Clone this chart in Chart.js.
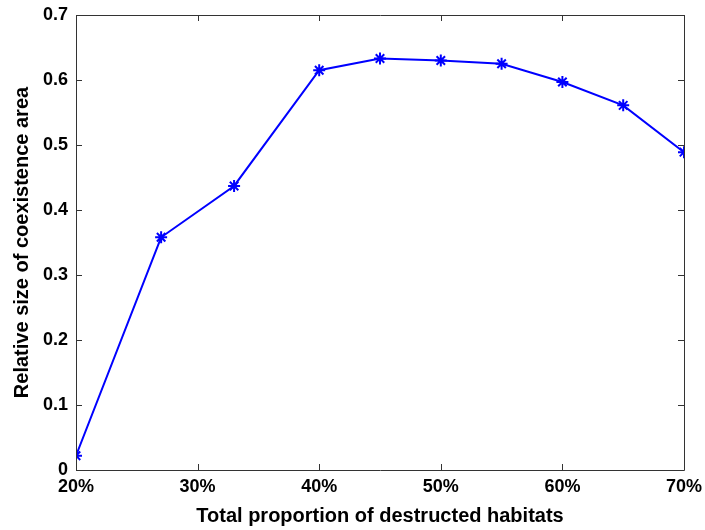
<!DOCTYPE html>
<html>
<head>
<meta charset="utf-8">
<script src="https://cdn.jsdelivr.net/npm/chart.js@4/dist/chart.umd.min.js"></script>
<style>
  body { margin: 0; background: #fff; }
  #wrap { width: 705px; height: 530px; }
</style>
</head>
<body>
<div id="wrap"><canvas id="chart" width="705" height="530"></canvas></div>
<script>
// data
const proportions = [20, 27, 33, 40, 45, 50, 55, 60, 65, 70];
const coexistence = [0.022, 0.358, 0.437, 0.615, 0.633, 0.630, 0.625, 0.597, 0.561, 0.489];
const xTicks = [20, 30, 40, 50, 60, 70];
const yTicks = [0, 0.1, 0.2, 0.3, 0.4, 0.5, 0.6, 0.7];
const yTickLabels = ['0', '0.1', '0.2', '0.3', '0.4', '0.5', '0.6', '0.7'];

const fontFamily = '"Liberation Sans Narrow", "Liberation Sans", Arial, sans-serif';

// matlab style box with inward ticks
const boxPlugin = {
    id: 'box',
    afterDraw(chart) {
        const ctx = chart.ctx;
        const a = chart.chartArea;
        const xs = chart.scales.x;
        const ys = chart.scales.y;
        const len = 6;
        ctx.save();
        ctx.strokeStyle = '#333';
        ctx.lineWidth = 1;
        ctx.beginPath();
        ctx.rect(Math.round(a.left) + 0.5, Math.round(a.top) + 0.5,
            Math.round(a.right - a.left), Math.round(a.bottom - a.top));
        xTicks.forEach(v => {
            const px = Math.round(xs.getPixelForValue(v)) + 0.5;
            ctx.moveTo(px, a.bottom); ctx.lineTo(px, a.bottom - len);
            ctx.moveTo(px, a.top); ctx.lineTo(px, a.top + len);
        });
        yTicks.forEach(v => {
            const py = Math.round(ys.getPixelForValue(v)) + 0.5;
            ctx.moveTo(a.left, py); ctx.lineTo(a.left + len, py);
            ctx.moveTo(a.right, py); ctx.lineTo(a.right - len, py);
        });
        ctx.stroke();
        ctx.restore();
    }
};

new Chart(document.getElementById('chart'), {
    type: 'line',
    data: {
        datasets: [{
            data: proportions.map((p, i) => ({ x: p, y: coexistence[i] })),
            borderColor: '#0000ff',
            backgroundColor: '#0000ff',
            borderWidth: 2,
            pointStyle: 'star',
            pointRadius: 6,
            pointBorderWidth: 2,
            tension: 0
        }]
    },
    options: {
        responsive: false,
        animation: false,
        layout: { padding: { top: 15, right: 21, left: 0, bottom: 0 } },
        plugins: { legend: { display: false }, tooltip: { enabled: false } },
        scales: {
            x: {
                type: 'linear',
                min: 20,
                max: 70,
                afterBuildTicks: s => { s.ticks = xTicks.map(v => ({ value: v })); },
                afterFit: s => { s.height = 60; s.paddingLeft = 0; s.paddingRight = 0; },
                grid: { display: false, drawTicks: false },
                border: { display: false },
                ticks: {
                    padding: 6,
                    color: '#000',
                    font: { family: fontFamily, size: 18, weight: 'bold' },
                    callback: v => v + '%'
                },
                title: {
                    display: true,
                    text: 'Total proportion of destructed habitats',
                    color: '#000',
                    font: { family: fontFamily, size: 20, weight: 'bold' },
                    padding: { top: 6, bottom: 2 }
                }
            },
            y: {
                min: 0,
                max: 0.7,
                afterBuildTicks: s => { s.ticks = yTicks.map(v => ({ value: v })); },
                afterFit: s => { s.width = 76; s.paddingTop = 0; s.paddingBottom = 0; },
                grid: { display: false, drawTicks: false },
                border: { display: false },
                ticks: {
                    padding: 8,
                    color: '#000',
                    font: { family: fontFamily, size: 18, weight: 'bold' },
                    callback: (v, i) => yTickLabels[i]
                },
                title: {
                    display: true,
                    text: 'Relative size of coexistence area',
                    color: '#000',
                    font: { family: fontFamily, size: 20, weight: 'bold' },
                    padding: { top: 10, bottom: 0 }
                }
            }
        }
    },
    plugins: [boxPlugin]
});
</script>
</body>
</html>
